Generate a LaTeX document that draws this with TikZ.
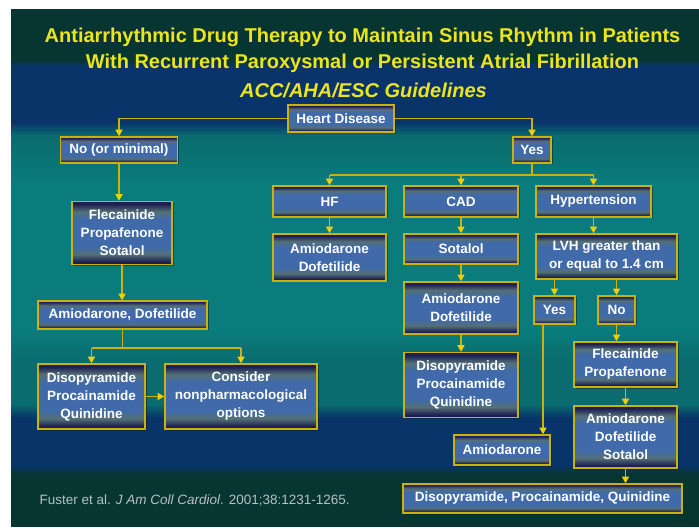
\documentclass[tikz,border=0pt]{standalone}
\usepackage{fontspec}
\setmainfont{Liberation Sans}
\usetikzlibrary{arrows.meta, shadows}

\definecolor{slidegreen}{RGB}{7,54,50}
\definecolor{slideblue}{RGB}{8,52,106}
\definecolor{slideteal}{RGB}{10,124,124}
\definecolor{slidetealdark}{RGB}{10,108,110}
\definecolor{titleyellow}{RGB}{236,228,30}
\definecolor{rimgold}{RGB}{204,176,12}
\definecolor{arrowgold}{RGB}{240,206,10}
\definecolor{boxnavy}{RGB}{28,30,84}
\definecolor{boxgrey}{RGB}{84,112,118}
\definecolor{boxblue}{RGB}{64,106,170}
\definecolor{boxshadow}{RGB}{8,30,36}
\definecolor{notegrey}{RGB}{184,192,194}

\pgfdeclareverticalshading{slatebox}{100bp}{color(0bp)=(boxnavy); color(27bp)=(boxnavy); color(33bp)=(boxgrey); color(39bp)=(boxblue); color(61bp)=(boxblue); color(67bp)=(boxgrey); color(73bp)=(boxnavy); color(100bp)=(boxnavy)}

\tikzset{
  stepbox/.style={draw=rimgold, line width=1.6pt, shade, shading=slatebox,
    drop shadow={shadow xshift=1.5pt, shadow yshift=-1.5pt, fill=boxshadow},
    text=white, font=\bfseries\fontsize{13.5}{18}\selectfont, align=center, inner sep=0pt},
  wire/.style={draw=rimgold, line width=1.3pt},
  link/.style={wire, -{Triangle[width=7pt,length=6.5pt,color=arrowgold]}},
  headline/.style={text=titleyellow, font=\bfseries\fontsize{20}{24}\selectfont}
}

\begin{document}
\begin{tikzpicture}[x=1pt, y=-1pt]
  \fill[white] (0,0) rectangle (699,529);
  \useasboundingbox (0,0) rectangle (699,529);

  % slide background
  \fill[slidegreen] (11,9) rectangle (699,60);
  \shade[top color=slidegreen, bottom color=slideblue] (11,60) rectangle (699,66);
  \fill[slideblue] (11,66) rectangle (699,122);
  \shade[top color=slideblue, bottom color=slidetealdark] (11,122) rectangle (699,136);
  \shade[top color=slidetealdark, bottom color=slideteal] (11,136) rectangle (699,185);
  \fill[slideteal] (11,185) rectangle (699,330);
  \shade[top color=slideteal, bottom color=slidetealdark] (11,330) rectangle (699,360);
  \fill[slidetealdark] (11,360) rectangle (699,404);
  \shade[top color=slidetealdark, bottom color=slideblue] (11,404) rectangle (699,418);
  \fill[slideblue] (11,418) rectangle (699,465);
  \shade[top color=slideblue, bottom color=slidegreen] (11,465) rectangle (699,474);
  \fill[slidegreen] (11,474) rectangle (699,527);

  \node[headline] (title) at (362.5,37) {Antiarrhythmic Drug Therapy to Maintain Sinus Rhythm in Patients};
  \node[headline] (subtitle) at (362.5,63) {With Recurrent Paroxysmal or Persistent Atrial Fibrillation};
  \node[headline, font=\bfseries\itshape\fontsize{20}{24}\selectfont] (guide) at (363.5,90) {ACC/AHA/ESC Guidelines};

  \node[stepbox, minimum width=106pt, minimum height=27pt] (heart) at (341,118.5) {Heart Disease};
  \node[stepbox, minimum width=117pt, minimum height=26pt] (nomin) at (119,150) {No (or minimal)};
  \node[stepbox, minimum width=38pt, minimum height=26pt] (yes) at (532,150) {Yes};

  % heart disease branch
  \node[stepbox, minimum width=113pt, minimum height=31pt] (hf) at (329.5,201.5) {HF};
  \node[stepbox, minimum width=114pt, minimum height=31pt] (cad) at (461,201.5) {CAD};
  \node[stepbox, minimum width=115pt, minimum height=31pt] (hyp) at (593.5,201.5) {Hypertension};
  \node[stepbox, minimum width=113pt, minimum height=47pt] (hfdrug) at (329.5,257.5) {Amiodarone\\Dofetilide};
  \node[stepbox, minimum width=114pt, minimum height=30pt] (cadsot) at (461,249) {Sotalol};
  \node[stepbox, minimum width=114pt, minimum height=52pt] (caddof) at (461,308) {Amiodarone\\Dofetilide};
  \node[stepbox, minimum width=114pt, minimum height=65pt] (caddpq) at (461,385) {Disopyramide\\Procainamide\\Quinidine};
  \node[stepbox, minimum width=141pt, minimum height=45pt] (lvh) at (606.5,256.5) {LVH greater than\\or equal to 1.4 cm};
  \node[stepbox, minimum width=41pt, minimum height=28pt] (lvhyes) at (554.5,310) {Yes};
  \node[stepbox, minimum width=37pt, minimum height=28pt] (lvhno) at (616.5,310) {No};
  \node[stepbox, minimum width=103pt, minimum height=45pt] (htflec) at (625.5,364.5) {Flecainide\\Propafenone};
  \node[stepbox, minimum width=103pt, minimum height=62pt] (htads) at (625.5,437) {Amiodarone\\Dofetilide\\Sotalol};
  \node[stepbox, minimum width=96pt, minimum height=30pt] (htamio) at (502,450) {Amiodarone};
  \node[stepbox, minimum width=279pt, minimum height=29pt] (htdpq) at (542.5,498.5) {Disopyramide, Procainamide, Quinidine};

  % no heart disease branch
  \node[stepbox, minimum width=100pt, minimum height=63pt] (noflec) at (122,233) {Flecainide\\Propafenone\\Sotalol};
  \node[stepbox, minimum width=169pt, minimum height=28pt] (noamdof) at (122.5,315) {Amiodarone, Dofetilide};
  \node[stepbox, minimum width=107pt, minimum height=65pt] (nodpq) at (91.5,396.5) {Disopyramide\\Procainamide\\Quinidine};
  \node[stepbox, minimum width=152pt, minimum height=65pt] (noablate) at (241,396.5) {Consider\\nonpharmacological\\options};

  \node[anchor=west, text=notegrey, font=\fontsize{13.5}{16}\selectfont] (cite) at (36,500) {Fuster et al. \textit{J Am Coll Cardiol}. 2001;38:1231-1265.};

  \coordinate (yessplit) at (532,175);
  \coordinate (nosplit) at (122,348);

  \draw[link] (heart.west) -| (nomin.north);
  \draw[link] (heart.east) -| (yes.north);
  \draw[wire] (yes.south) -- (yessplit);
  \draw[wire] (hf.north |- yessplit) -- (hyp.north |- yessplit);
  \foreach \n in {hf, cad, hyp}
    \draw[link] (\n.north |- yessplit) -- (\n.north);
  \draw[link] (hf.south) -- (hfdrug.north);
  \draw[link] (cad.south) -- (cadsot.north);
  \draw[link] (cadsot.south) -- (caddof.north);
  \draw[link] (caddof.south) -- (caddpq.north);
  \draw[link] (hyp.south) -- (hyp.south |- lvh.north);
  \draw[link] (lvh.south -| lvhyes) -- (lvhyes.north);
  \draw[link] (lvh.south -| lvhno) -- (lvhno.north);
  \draw[link] (lvhno.south) -- (lvhno.south |- htflec.north);
  \draw[link] (htflec.south) -- (htads.north);
  \draw[link] ([xshift=-11.5pt]lvhyes.south) -- ([xshift=-11.5pt]lvhyes.south |- htamio.north);
  \draw[link] (htads.south) -- (htads.south |- htdpq.north);

  \draw[link] (nomin.south) -- (nomin.south |- noflec.north);
  \draw[link] (noflec.south) -- (noflec.south |- noamdof.north);
  \draw[wire] (noamdof.south) -- (noamdof.south |- nosplit);
  \draw[wire] (nodpq.north |- nosplit) -- (noablate.north |- nosplit);
  \draw[link] (nodpq.north |- nosplit) -- (nodpq.north);
  \draw[link] (noablate.north |- nosplit) -- (noablate.north);
  \draw[link] (nodpq.east) -- (noablate.west);
\end{tikzpicture}
\end{document}
